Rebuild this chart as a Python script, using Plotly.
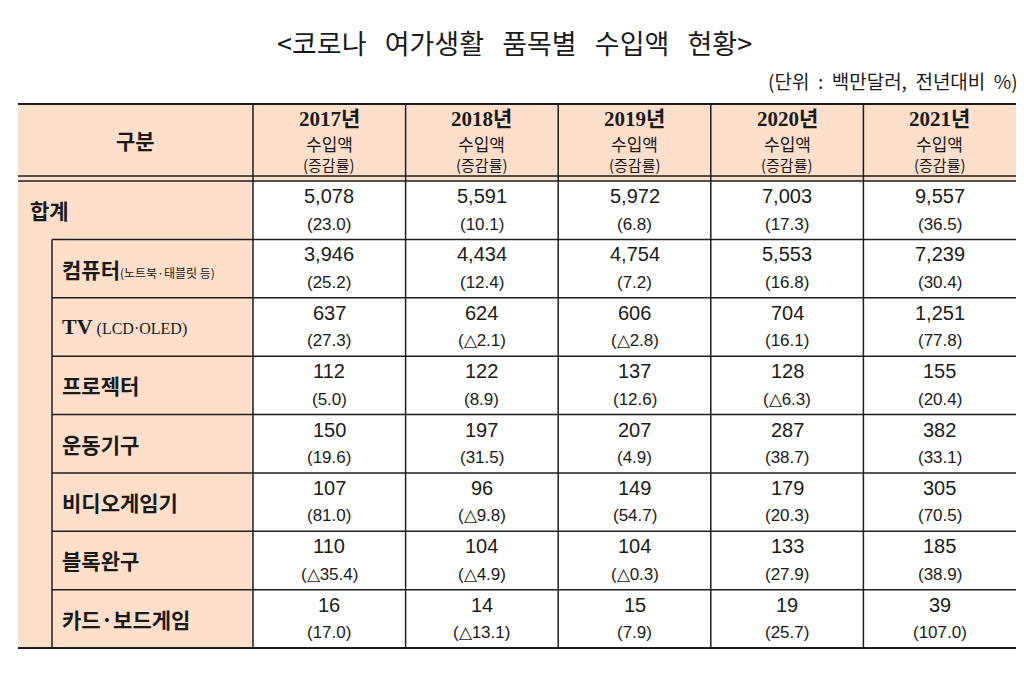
import plotly.graph_objects as go

# ---------------- data ----------------
title_text = "<코로나 여가생활 품목별 수입액 현황>"
unit_text = "(단위 : 백만달러, 전년대비 %)"
corner_label = "구분"
years = ["2017년", "2018년", "2019년", "2020년", "2021년"]
header_sub1 = "수입액"
header_sub2 = "(증감률)"

categories = ["합계", "컴퓨터", "TV", "프로젝터", "운동기구", "비디오게임기", "블록완구", "카드·보드게임"]
category_notes = ["", "(노트북·태블릿 등)", "(LCD·OLED)", "", "", "", "", ""]

imports_2017 = [5078, 3946, 637, 112, 150, 107, 110, 16]
imports_2018 = [5591, 4434, 624, 122, 197, 96, 104, 14]
imports_2019 = [5972, 4754, 606, 137, 207, 149, 104, 15]
imports_2020 = [7003, 5553, 704, 128, 287, 179, 133, 19]
imports_2021 = [9557, 7239, 1251, 155, 382, 305, 185, 39]

growth_2017 = [23.0, 25.2, 27.3, 5.0, 19.6, 81.0, -35.4, 17.0]
growth_2018 = [10.1, 12.4, -2.1, 8.9, 31.5, -9.8, -4.9, -13.1]
growth_2019 = [6.8, 7.2, -2.8, 12.6, 4.9, 54.7, -0.3, 7.9]
growth_2020 = [17.3, 16.8, 16.1, -6.3, 38.7, 20.3, 27.9, 25.7]
growth_2021 = [36.5, 30.4, 77.8, 20.4, 33.1, 70.5, 38.9, 107.0]

imports = [imports_2017, imports_2018, imports_2019, imports_2020, imports_2021]
growth = [growth_2017, growth_2018, growth_2019, growth_2020, growth_2021]

# ---------------- layout grid (page pixel units) ----------------
W, H = 1024, 688
PAGE_OFF = 8  # default body margin of the page
x_left, x_indent, x_label_end, x_right = 18, 52, 253, 1016
col_w = (x_right - x_label_end) / len(years)
y_top, y_head_a, y_head_b, y_bottom = 104, 176, 181, 648
row_h = (y_bottom - y_head_b) / len(categories)

PEACH = "#FDDFCC"
LINE = "#1e1e1e"
TXT = "#1a1a1a"
KR = "Noto Sans CJK KR, Noto Sans, sans-serif"
NUM = "Liberation Sans, Arial, sans-serif"
SERIF = "Liberation Serif, Noto Sans CJK KR, serif"
NBSP = "\u00a0"


def fmt_growth(v):
    return f"(△{abs(v):.1f})" if v < 0 else f"({v:.1f})"


def widen(s, n):
    # widen word gaps with non-breaking spaces (SVG collapses plain spaces)
    return s.replace(" ", NBSP * n)


shapes = []
annotations = []


def line(x0, y0, x1, y1, w=1.5):
    shapes.append(dict(type="line", xref="x", yref="y", x0=x0, y0=y0, x1=x1, y1=y1,
                       line=dict(color=LINE, width=w)))


def text(x, y, s, size, family=KR, xanchor="center", color=TXT):
    annotations.append(dict(x=x, y=y, xref="x", yref="y", text=s, showarrow=False,
                            xanchor=xanchor, yanchor="middle",
                            font=dict(size=size, family=family, color=color)))


# fills
shapes.append(dict(type="rect", xref="x", yref="y", x0=x_left, x1=x_right, y0=y_top, y1=y_head_b,
                   fillcolor=PEACH, line=dict(width=0), layer="below"))
shapes.append(dict(type="rect", xref="x", yref="y", x0=x_left, x1=x_label_end, y0=y_head_b, y1=y_bottom,
                   fillcolor=PEACH, line=dict(width=0), layer="below"))

# horizontal rules
line(x_left, y_top, x_right, y_top, 2.2)
line(x_left, y_head_a, x_right, y_head_a, 1.6)
line(x_left, y_head_b, x_right, y_head_b, 1.6)
for i in range(1, len(categories)):
    yy = y_head_b + i * row_h
    line(x_indent, yy, x_right, yy, 1.5)
line(x_left, y_bottom, x_right, y_bottom, 1.8)

# vertical rules
line(x_indent, y_head_b + row_h, x_indent, y_bottom, 1.5)
for j in range(len(years)):
    xx = x_label_end + j * col_w
    line(xx, y_top, xx, y_bottom, 1.5)

# title & unit
text(W / 2 + 2, 42, widen(title_text, 3), 27)
text(1020, 80, widen(unit_text, 2), 19, xanchor="right")

# header
text((x_left + x_label_end) / 2, 140, "<b>" + corner_label + "</b>", 21)
for j, yr in enumerate(years):
    cx = x_label_end + (j + 0.5) * col_w
    text(cx, 119, "<b>" + yr + "</b>", 21, family=SERIF)
    text(cx, 143, header_sub1, 17)
    text(cx, 164, header_sub2, 15)

# row labels
for i, cat in enumerate(categories):
    cy = y_head_b + (i + 0.5) * row_h
    note = category_notes[i]
    if i == 0:
        text(28, cy, "<b>" + cat + "</b>", 21, xanchor="left")
    elif cat == "TV":
        text(60, cy, "<b>" + cat + "</b>" +
             f"<span style='font-size:16px;font-weight:normal'> {note}</span>",
             22, family=SERIF, xanchor="left")
    elif note:
        text(60, cy, "<b>" + cat + "</b>" +
             f"<span style='font-size:12px'>{note}</span>", 21, xanchor="left")
    else:
        text(60, cy, "<b>" + cat + "</b>", 21, xanchor="left")

# values
for j in range(len(years)):
    cx = x_label_end + (j + 0.5) * col_w
    for i in range(len(categories)):
        top = y_head_b + i * row_h
        text(cx, top + 15, f"{imports[j][i]:,}", 20, family=NUM)
        text(cx, top + 43, fmt_growth(growth[j][i]), 17, family=NUM)

fig = go.Figure()
fig.update_layout(
    width=W - PAGE_OFF, height=H - PAGE_OFF,
    margin=dict(l=0, r=0, t=0, b=0),
    paper_bgcolor="white", plot_bgcolor="white",
    xaxis=dict(range=[PAGE_OFF, W], visible=False, fixedrange=True),
    yaxis=dict(range=[H, PAGE_OFF], visible=False, fixedrange=True),
    shapes=shapes, annotations=annotations, showlegend=False,
)
fig.write_html("out.html")
